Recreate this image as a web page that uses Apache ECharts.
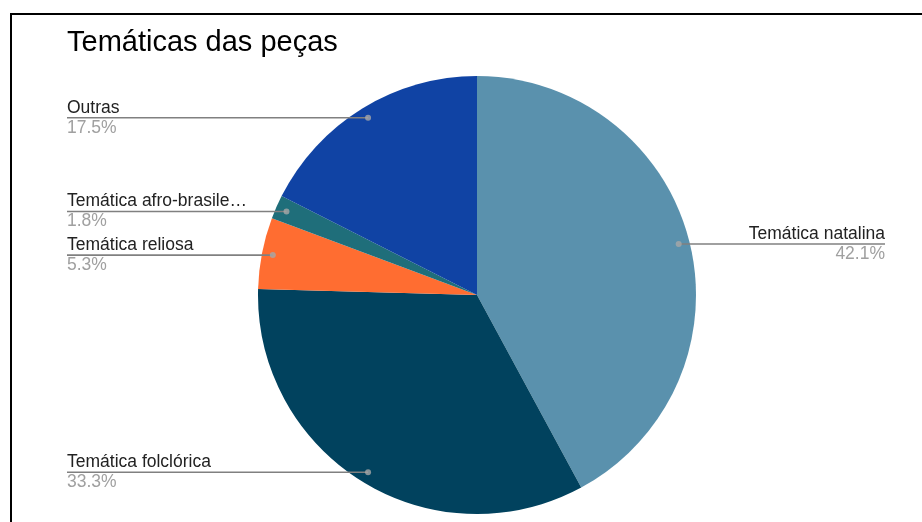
<!DOCTYPE html>
<html>
<head>
<meta charset="utf-8">
<script src="https://cdn.jsdelivr.net/npm/echarts@6/dist/echarts.min.js"></script>
<style>
  html, body { margin: 0; padding: 0; background: #fff; }
  #chart { position: absolute; left: 0; top: 0; width: 922px; height: 522px; }
  #frame { position: absolute; left: 10px; top: 13px; width: 1000px; height: 1000px;
           border-left: 2px solid #000; border-top: 2px solid #000; pointer-events: none; }
</style>
</head>
<body>
<div id="chart"></div>
<div id="frame"></div>
<script>
const titleText = 'Temáticas das peças';
const categories = ['Temática natalina', 'Temática folclórica', 'Temática reliosa', 'Temática afro-brasile…', 'Outras'];
const counts = [24, 19, 3, 1, 10];
const colors = ['#5a91ad', '#01425e', '#ff6d31', '#1f6e7a', '#1043a4'];

const total = counts.reduce((a, b) => a + b, 0);
const pieData = categories.map((c, i) => ({ name: c, value: counts[i], itemStyle: { color: colors[i] } }));
let acc = 0;
const dotData = counts.map(v => { const m = acc + v / 2; acc += v; return [0.95, m]; });

const chart = echarts.init(document.getElementById('chart'), null, { renderer: 'canvas' });
const FONT = '"Liberation Sans", Arial, sans-serif';
chart.setOption({
  backgroundColor: '#ffffff',
  animation: false,
  title: {
    text: titleText, left: 67, top: 28.5, padding: 0,
    textStyle: { fontFamily: FONT, fontSize: 29, fontWeight: 'normal', color: '#000000' }
  },
  polar: { center: [477, 295], radius: 219 },
  angleAxis: { type: 'value', min: 0, max: total, startAngle: 90, clockwise: true, show: false },
  radiusAxis: { type: 'value', min: 0, max: 1, show: false },
  series: [
    {
      type: 'pie',
      z: 1,
      left: 47, top: 0, width: 858, height: 522,
      center: [430, 295],
      radius: [0, 219],
      startAngle: 90,
      clockwise: true,
      silent: true,
      label: { show: false },
      labelLine: { show: false },
      itemStyle: { borderWidth: 0 },
      data: pieData
    },
    {
      type: 'pie',
      z: 3,
      left: 47, top: 0, width: 858, height: 522,
      center: [430, 295],
      radius: [0, 208],
      startAngle: 90,
      clockwise: true,
      silent: true,
      percentPrecision: 1,
      itemStyle: { color: 'rgba(0,0,0,0)', borderWidth: 0 },
      label: {
        show: true,
        position: 'outer',
        alignTo: 'edge',
        edgeDistance: 20,
        distanceToLabelLine: 5,
        formatter: '{n|{b}}\n{p|{d}%}',
        rich: {
          n: { fontFamily: FONT, fontSize: 17.5, lineHeight: 20, color: '#222222' },
          p: { fontFamily: FONT, fontSize: 17.5, lineHeight: 20, color: '#a0a0a0' }
        }
      },
      labelLine: { show: true, length: 0.001, length2: 5, smooth: false, lineStyle: { color: '#808080', width: 1.6 } },
      labelLayout: function (params) {
        const pts = params.labelLinePoints;
        if (!pts) return {};
        const r = params.labelRect;
        const p0 = pts[0];
        const isLeft = r.x + r.width / 2 < p0[0];
        const endX = isLeft ? r.x : r.x + r.width;
        return { labelLinePoints: [[p0[0], p0[1]], [p0[0], p0[1]], [endX, p0[1]]] };
      },
      data: categories.map((c, i) => ({ name: c, value: counts[i] }))
    },
    {
      type: 'scatter',
      coordinateSystem: 'polar',
      symbol: 'circle',
      symbolSize: 6,
      silent: true,
      itemStyle: { color: '#a8a8a8' },
      data: dotData,
      z: 5
    }
  ]
});
</script>
</body>
</html>
